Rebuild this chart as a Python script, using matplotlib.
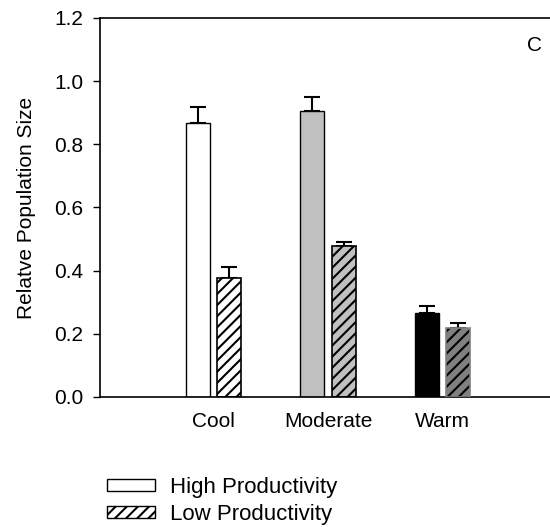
import matplotlib
matplotlib.use("Agg")
import matplotlib.pyplot as plt
import numpy as np
from matplotlib.patches import Patch

plt.rcParams['font.family'] = ['Liberation Sans', 'DejaVu Sans']
plt.rcParams['hatch.linewidth'] = 1.5

categories = ["Cool", "Moderate", "Warm"]
high_vals = [0.868, 0.906, 0.265]
high_err = [0.050, 0.044, 0.023]
low_vals = [0.378, 0.477, 0.217]
low_err = [0.033, 0.013, 0.016]
high_colors = ["white", "#c0c0c0", "black"]
low_colors = ["white", "#c0c0c0", "#808080"]
low_edges = ["black", "black", "#808080"]
yticks = [0.0, 0.2, 0.4, 0.6, 0.8, 1.0, 1.2]

FS = 15
HATCH = '///'

fig = plt.figure(figsize=(5.5, 5.27), dpi=100)
ax = fig.add_axes([100/550, 130/527, 450/550, 379/527])

x = np.arange(1, len(categories) + 1)
off = 0.1375
w = 0.21
ekw = dict(elinewidth=1.5, capthick=1.5, capsize=6, ecolor='black')
for i in range(len(categories)):
    ax.bar(x[i] - off, high_vals[i], w, color=high_colors[i], edgecolor='black', linewidth=1.0, zorder=2)
    ax.errorbar(x[i] - off, high_vals[i], yerr=[[0], [high_err[i]]], fmt='none', zorder=1, **ekw)
    # hatched fill (black hatch), then outline in its own colour
    ax.bar(x[i] + off, low_vals[i], w, color=low_colors[i], edgecolor='black', hatch=HATCH, linewidth=0, zorder=2)
    ax.bar(x[i] + off, low_vals[i], w, fill=False, edgecolor=low_edges[i], linewidth=1.2, zorder=3)
    ax.errorbar(x[i] + off, low_vals[i], yerr=[[0], [low_err[i]]], fmt='none', zorder=1, **ekw)

ax.set_xlim(0.007, 3.94)
ax.set_ylim(0, 1.2)
ax.set_yticks(yticks)
ax.set_yticklabels([f"{v:.1f}" for v in yticks], fontsize=FS)
ax.set_xticks(x)
ax.set_xticklabels(categories, fontsize=FS)
ax.tick_params(axis='x', length=0, pad=11)
ax.tick_params(axis='y', direction='out', length=5, width=1, pad=7)
ax.spines['right'].set_visible(False)
for s in ['left', 'bottom', 'top']:
    ax.spines[s].set_linewidth(1.2)
ax.set_ylabel("Relatve Population Size", fontsize=FS, labelpad=13)
ax.text(535/550, 1 - 45/527, "C", transform=fig.transFigure, fontsize=FS, ha='center', va='center')

handles = [Patch(facecolor='white', edgecolor='black', linewidth=1.0, label='High Productivity'),
           Patch(facecolor='white', edgecolor='black', hatch=HATCH, linewidth=1.0, label='Low Productivity')]
fig.legend(handles=handles, loc='upper left', bbox_to_anchor=(107/550, 1 - 477/527), frameon=False,
           fontsize=16, handlelength=2.15, handleheight=0.45, handletextpad=0.7, labelspacing=0.25,
           borderaxespad=0, borderpad=0)

fig.savefig("out.png", dpi=100)
